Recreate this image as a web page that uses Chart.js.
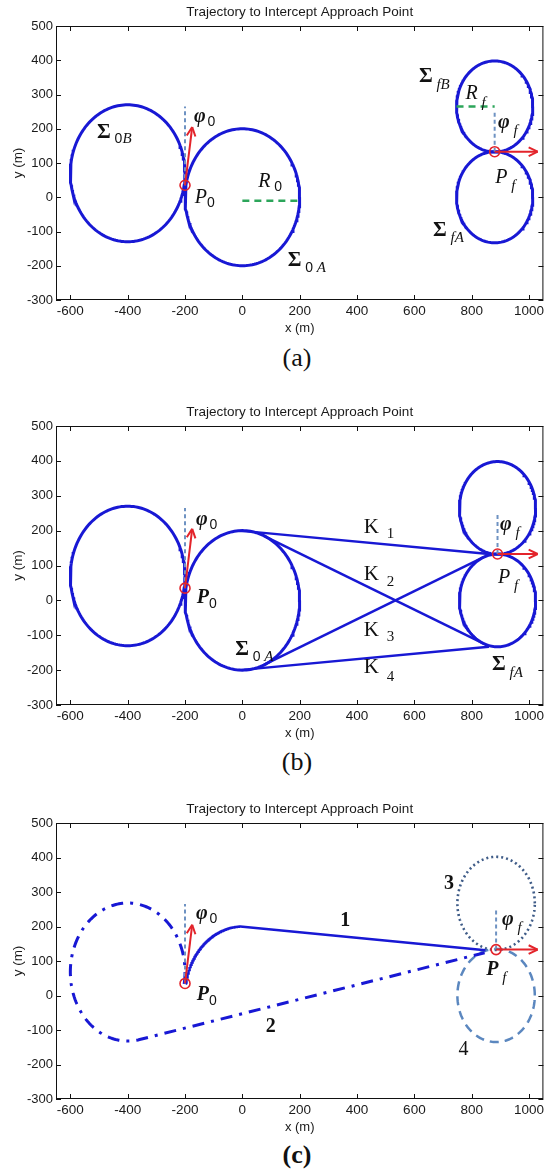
<!DOCTYPE html>
<html lang="en">
<head>
<meta charset="UTF-8">
<title>Trajectory to Intercept Approach Point</title>
<style>
  body { margin: 0; background: #fff; width: 550px; height: 1173px; position: relative; overflow: hidden; }
  .panel { position: absolute; left: 0; width: 550px; }
  .caption { position: absolute; left: 0; width: 594px; height: 30px; line-height: 30px; text-align: center;
             font-family: "Liberation Serif", "Times New Roman", serif; font-size: 26px; color: #111; }
</style>
<script src="https://cdn.jsdelivr.net/npm/chart.js"></script>
</head>
<body>
<div class="panel" style="top:0px"><canvas id="chartA" width="550" height="336"></canvas></div>
<div class="caption" style="top:343px">(a)</div>
<div class="panel" style="top:400px"><canvas id="chartB" width="550" height="341"></canvas></div>
<div class="caption" style="top:747px">(b)</div>
<div class="panel" style="top:797px"><canvas id="chartC" width="550" height="338"></canvas></div>
<div class="caption" style="top:1140px;font-weight:bold">(c)</div>

<script>
// ---- data (metres) ----
const xTickVals = [-600, -400, -200, 0, 200, 400, 600, 800, 1000];
const yTickVals = [-300, -200, -100, 0, 100, 200, 300, 400, 500];
const xRange = [-650, 1050];
const yRange = [-300, 500];

// start point, heading arrow tip, top of the dashed reference line
const p0 = [-200, 35];
const phi0Tip = [-175, 205];
const p0MarkTop = 265;

// final point per panel (a, b, c), arrow end, top of dashed reference line
const pfList = [[880, 133], [890, 133], [885, 133]];
const pfArrowEnd = 1030;
const pfMarkTop = 250;

// turning circles [cx, cy, r]
const sigma0B = [-400, 70, 200];
const sigma0A = [0, 0, 200];
const sigmaFB = [[880, 265, 133], [890, 265, 133], [885, 267, 135]];
const sigmaFA = [[880, 0, 133], [890, 0, 133], [885, 0, 135]];

// radius marks in (a)
const r0Line = [[0, -10], [200, -10]];
const rfLine = [[747, 265], [880, 265]];

// tangent lines in (b)
const k1 = [[-10, 200], [860, 133]];
const k2 = [[75, 185], [840, -123]];
const k3 = [[75, -185], [840, 123]];
const k4 = [[-10, -200], [860, -133]];

// trajectories in (c): arc [cx, cy, r, startDeg, endDeg], then straight leg to end point
const path1Arc = [0, 0, 200, 170, 92];
const path1End = [848, 131];
const path2Arc = [-400, 68, 200, -10, 282];
const path2End = [845, 124];

// ---- styles ----
const SERIF = '"Liberation Serif", "Times New Roman", serif';
const SANS = '"Liberation Sans", Arial, sans-serif';
const BLUE = '#1818d4';
const RED = '#e3242b';
const REFBLUE = '#6e92c2';
const GREEN = '#2ca55a';

const SIG = `bold 21px ${SERIF}`;
const PHI = `bold italic 20px ${SERIF}`;
const IT = `italic 20px ${SERIF}`;
const BIT = `bold italic 20px ${SERIF}`;
const SUBN = `14px ${SANS}`;
const SUBI = `italic 15px ${SERIF}`;
const KF = `21px ${SERIF}`;
const SUBK = `15px ${SERIF}`;
const NUMB = `bold 20px ${SERIF}`;
const NUM = `20px ${SERIF}`;

// ---- helpers ----
function pointsOf(pairs) {
    return pairs.map(([x, y]) => ({x, y}));
}

function arcPts(cx, cy, r, a0 = 0, a1 = 360) {
    const n = 180, pts = [];
    for (let i = 0; i <= n; i++) {
        const a = (a0 + (a1 - a0) * i / n) * Math.PI / 180;
        pts.push({x: cx + r * Math.cos(a), y: cy + r * Math.sin(a)});
    }
    return pts;
}

function line(data, color, width, dash) {
    return {
        data, showLine: true, borderColor: color, borderWidth: width,
        borderDash: dash || [], pointRadius: 0, pointHoverRadius: 0, tension: 0, fill: false
    };
}

function marker(p) {
    return {
        data: pointsOf([p]), showLine: false, pointRadius: 5, pointHoverRadius: 5,
        pointBorderColor: RED, pointBackgroundColor: 'rgba(0,0,0,0)', pointBorderWidth: 1.6
    };
}

function arrow(pairs) {
    const ds = line(pointsOf(pairs), RED, 2);
    ds.arrow = true;
    return ds;
}

function headingMarks(k) {
    const pf = pfList[k];
    return [
        marker(p0), marker(pf),
        arrow([p0, phi0Tip]), arrow([pf, [pfArrowEnd, pf[1]]]),
        line(pointsOf([p0, [p0[0], p0MarkTop]]), REFBLUE, 2, [4, 3]),
        line(pointsOf([pf, [pf[0], pfMarkTop]]), REFBLUE, 2, [4, 3])
    ];
}

// ---- plugins ----
const frame = {
    id: 'frame',
    afterDraw(chart) {
        const {ctx, chartArea: a, scales: {x, y}} = chart;
        ctx.save();
        ctx.strokeStyle = '#111';
        ctx.lineWidth = 1;
        ctx.strokeRect(a.left + 0.5, a.top + 0.5, a.width - 1, a.height - 1);
        ctx.beginPath();
        x.ticks.forEach(t => {
            const px = Math.round(x.getPixelForValue(t.value)) + 0.5;
            ctx.moveTo(px, a.bottom); ctx.lineTo(px, a.bottom - 5);
            ctx.moveTo(px, a.top); ctx.lineTo(px, a.top + 5);
        });
        y.ticks.forEach(t => {
            const py = Math.round(y.getPixelForValue(t.value)) + 0.5;
            ctx.moveTo(a.left, py); ctx.lineTo(a.left + 5, py);
            ctx.moveTo(a.right, py); ctx.lineTo(a.right - 5, py);
        });
        ctx.stroke();
        ctx.restore();
    }
};

const arrowHeads = {
    id: 'arrowHeads',
    afterDatasetsDraw(chart) {
        const ctx = chart.ctx;
        chart.data.datasets.forEach((ds, i) => {
            if (!ds.arrow) return;
            const pts = chart.getDatasetMeta(i).data;
            const tip = pts[pts.length - 1], prev = pts[pts.length - 2];
            const ang = Math.atan2(tip.y - prev.y, tip.x - prev.x);
            ctx.save();
            ctx.strokeStyle = ds.borderColor;
            ctx.lineWidth = 2;
            ctx.beginPath();
            [0.45, -0.45].forEach(d => {
                ctx.moveTo(tip.x, tip.y);
                ctx.lineTo(tip.x - 10 * Math.cos(ang + d), tip.y - 10 * Math.sin(ang + d));
            });
            ctx.stroke();
            ctx.restore();
        });
    }
};

function texts(items) {
    return {
        id: 'texts',
        afterDatasetsDraw(chart) {
            const {ctx, scales: {x, y}} = chart;
            ctx.save();
            ctx.fillStyle = '#111';
            ctx.textBaseline = 'middle';
            ctx.textAlign = 'left';
            items.forEach(it => {
                let px = x.getPixelForValue(it.at[0]);
                const py = y.getPixelForValue(it.at[1]);
                it.parts.forEach(([s, font, dy = 0, dx = 0]) => {
                    ctx.font = font;
                    px += dx;
                    ctx.fillText(s, px, py + dy);
                    px += ctx.measureText(s).width;
                });
            });
            ctx.restore();
        }
    };
}

function makeChart(id, datasets, labels) {
    new Chart(document.getElementById(id), {
        type: 'scatter',
        data: {datasets},
        plugins: [arrowHeads, texts(labels), frame],
        options: {
            responsive: false,
            animation: false,
            devicePixelRatio: 1,
            layout: {padding: {left: 0, right: 1, top: 0, bottom: 0}},
            plugins: {
                legend: {display: false},
                tooltip: {enabled: false},
                title: {
                    display: true, text: 'Trajectory to Intercept Approach Point', fullSize: false,
                    color: '#1a1a1a', font: {family: SANS, size: 13.5, weight: 'normal'},
                    padding: {top: 3.9, bottom: 5.9}
                }
            },
            scales: {
                x: {
                    type: 'linear', min: xRange[0], max: xRange[1],
                    afterBuildTicks: s => { s.ticks = xTickVals.map(v => ({value: v})); },
                    afterFit: s => { s.height = 36; s.paddingLeft = 0; s.paddingRight = 0; },
                    grid: {display: false, drawTicks: false},
                    border: {display: false},
                    ticks: {
                        color: '#1a1a1a', font: {family: SANS, size: 13.5}, padding: 3,
                        autoSkip: false, maxRotation: 0, callback: v => String(v)
                    },
                    title: {display: true, text: 'x (m)', color: '#1a1a1a', font: {family: SANS, size: 13}, padding: 0}
                },
                y: {
                    type: 'linear', min: yRange[0], max: yRange[1],
                    afterBuildTicks: s => { s.ticks = yTickVals.map(v => ({value: v})); },
                    afterFit: s => { s.width = 56; s.paddingTop = 0; s.paddingBottom = 0; },
                    grid: {display: false, drawTicks: false},
                    border: {display: false},
                    ticks: {
                        color: '#1a1a1a', font: {family: SANS, size: 13}, padding: 3,
                        autoSkip: false, callback: v => String(v)
                    },
                    title: {display: true, text: 'y (m)', color: '#1a1a1a', font: {family: SANS, size: 13.5}, padding: {top: 10, bottom: 0}}
                }
            }
        }
    });
}

// ---- panel (a): turning circles ----
makeChart('chartA', [
    ...headingMarks(0),
    line(pointsOf(r0Line), GREEN, 2.5, [7, 5]),
    line(pointsOf(rfLine), GREEN, 2.5, [7, 5]),
    line(arcPts(...sigma0B), BLUE, 3),
    line(arcPts(...sigma0A), BLUE, 3),
    line(arcPts(...sigmaFB[0]), BLUE, 3),
    line(arcPts(...sigmaFA[0]), BLUE, 3)
], [
    {at: [-507, 190], parts: [['Σ', SIG], [' 0', SUBN, 7], ['B', SUBI, 7]]},
    {at: [-169, 234], parts: [['φ', PHI], ['0', SUBN, 5, 2]]},
    {at: [-166, 0], parts: [['P', IT], ['0', SUBN, 6]]},
    {at: [55, 44], parts: [['R', IT], [' 0', SUBN, 5]]},
    {at: [158, -186], parts: [['Σ', SIG], [' 0', SUBN, 7], [' A', SUBI, 7]]},
    {at: [616, 351], parts: [['Σ', SIG], [' fB', SUBI, 8]]},
    {at: [778, 301], parts: [['R', IT], [' f', SUBI, 9]]},
    {at: [892, 217], parts: [['φ', PHI], [' f', SUBI, 8]]},
    {at: [882, 56], parts: [['P', IT], [' f', SUBI, 8]]},
    {at: [665, -96], parts: [['Σ', SIG], [' fA', SUBI, 8]]}
]);

// ---- panel (b): candidate tangent lines ----
makeChart('chartB', [
    ...headingMarks(1),
    line(pointsOf(k1), BLUE, 2.5),
    line(pointsOf(k2), BLUE, 2.5),
    line(pointsOf(k3), BLUE, 2.5),
    line(pointsOf(k4), BLUE, 2.5),
    line(arcPts(...sigma0B), BLUE, 3),
    line(arcPts(...sigma0A), BLUE, 3),
    line(arcPts(...sigmaFB[1]), BLUE, 3),
    line(arcPts(...sigmaFA[1]), BLUE, 3)
], [
    {at: [-162, 230], parts: [['φ', PHI], ['0', SUBN, 5, 2]]},
    {at: [-159, 7], parts: [['P', BIT], ['0', SUBN, 6]]},
    {at: [-25, -142], parts: [['Σ', SIG], [' 0', SUBN, 7], [' A', SUBI, 7]]},
    {at: [423, 210], parts: [['K', KF], ['1', SUBK, 7, 8]]},
    {at: [423, 73], parts: [['K', KF], ['2', SUBK, 7, 8]]},
    {at: [423, -85], parts: [['K', KF], ['3', SUBK, 7, 8]]},
    {at: [423, -191], parts: [['K', KF], ['4', SUBK, 10, 8]]},
    {at: [899, 216], parts: [['φ', PHI], [' f', SUBI, 8]]},
    {at: [892, 64], parts: [['P', IT], [' f', SUBI, 8]]},
    {at: [871, -185], parts: [['Σ', SIG], [' fA', SUBI, 8]]}
]);

// ---- panel (c): chosen trajectories ----
const path1 = arcPts(...path1Arc).concat(pointsOf([path1End]));
const path2 = arcPts(...path2Arc).concat(pointsOf([path2End]));
makeChart('chartC', [
    ...headingMarks(2),
    line(path1, BLUE, 2.5),
    line(path2, BLUE, 3, [12, 7, 3, 7]),
    line(arcPts(...sigmaFB[2]), '#3f5c88', 2.6, [2, 3]),
    line(arcPts(...sigmaFA[2]), '#5b87bf', 2.5, [9, 6])
], [
    {at: [-162, 236], parts: [['φ', PHI], ['0', SUBN, 5, 2]]},
    {at: [-159, 1], parts: [['P', BIT], ['0', SUBN, 6]]},
    {at: [341, 216], parts: [['1', NUMB]]},
    {at: [82, -91], parts: [['2', NUMB]]},
    {at: [703, 323], parts: [['3', NUMB]]},
    {at: [754, -158], parts: [['4', NUM]]},
    {at: [906, 219], parts: [['φ', PHI], [' f', SUBI, 8]]},
    {at: [851, 74], parts: [['P', BIT], [' f', SUBI, 8]]}
]);
</script>
</body>
</html>
